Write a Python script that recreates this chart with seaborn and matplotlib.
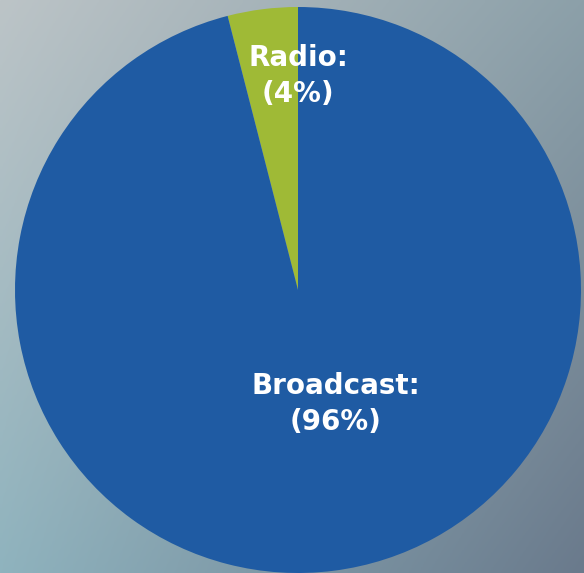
import numpy as np
import matplotlib
matplotlib.use("Agg")
import matplotlib.pyplot as plt
import seaborn as sns

sns.set_theme(style="white")
plt.rcParams['font.family'] = ['DejaVu Sans']

# Share of coverage by medium
categories = ["Radio", "Broadcast"]
shares = [4, 96]
slice_colors = ["#9fba36", "#1f5ba3"]

W, H = 584, 573
fig = plt.figure(figsize=(W / 100, H / 100), dpi=100)
ax = fig.add_axes([0, 0, 1, 1])

# Soft slate backdrop: bilinear blend between four corner tones
tl = np.array([0xbc, 0xc4, 0xc7]) / 255
tr = np.array([0x8c, 0xa0, 0xa9]) / 255
bl = np.array([0x8f, 0xb3, 0xbe]) / 255
br = np.array([0x6a, 0x7a, 0x8c]) / 255
u = np.linspace(0, 1, 200)[None, :, None]
v = np.linspace(0, 1, 200)[:, None, None]
top = tl * (1 - u) + tr * u
bot = bl * (1 - u) + br * u
grad = top * (1 - v) + bot * v
ax.imshow(grad, extent=[0, W, 0, H], origin="upper", aspect="auto", zorder=0)

cx, cy, r = 298, 283, 283
wedges, _ = ax.pie(
    shares,
    colors=slice_colors,
    startangle=90,
    counterclock=True,
    center=(cx, cy),
    radius=r,
    frame=True,
    wedgeprops=dict(linewidth=0),
)
for w in wedges:
    w.set_zorder(2)

ax.set_xlim(0, W)
ax.set_ylim(0, H)
ax.set_aspect("auto")
ax.axis("off")

label_style = dict(color="white", fontsize=20, fontweight="bold",
                   ha="center", va="center", zorder=3, linespacing=1.38)
ax.text(cx, H - 76, f"{categories[0]}:\n({shares[0]}%)", **label_style)
ax.text(cx + 38, H - 404, f"{categories[1]}:\n({shares[1]}%)", **label_style)

fig.savefig("out.png", dpi=100)
